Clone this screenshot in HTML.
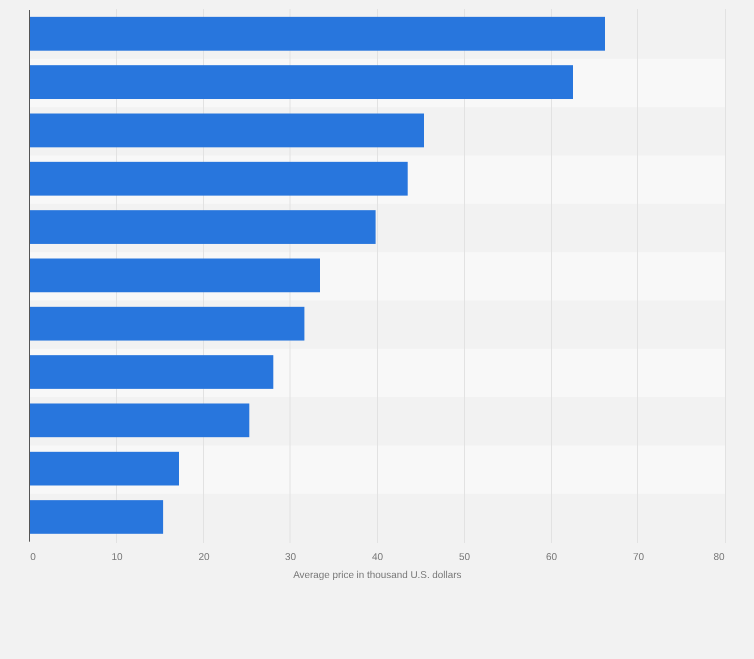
<!DOCTYPE html>
<html><head><meta charset="utf-8"><style>
html,body{margin:0;padding:0;background:#f2f2f2;}
body{width:754px;height:659px;overflow:hidden;}
svg{display:block;will-change:transform;}
text{text-rendering:geometricPrecision;}
.lbl{font-family:"Liberation Sans",sans-serif;font-size:10px;fill:#777777;}
.ttl{font-family:"Liberation Sans",sans-serif;font-size:9.9px;fill:#777777;}
.t{will-change:transform;}
</style></head><body>
<svg width="754" height="659" viewBox="0 0 754 659">
<rect x="0" y="0" width="754" height="659" fill="#f2f2f2"/>
<rect x="30" y="58.83" width="695" height="48.33" fill="#f8f8f8"/>
<rect x="30" y="155.49" width="695" height="48.33" fill="#f8f8f8"/>
<rect x="30" y="252.15" width="695" height="48.33" fill="#f8f8f8"/>
<rect x="30" y="348.81" width="695" height="48.33" fill="#f8f8f8"/>
<rect x="30" y="445.47" width="695" height="48.33" fill="#f8f8f8"/>
<line x1="116.5" y1="9" x2="116.5" y2="543" stroke="#e2e2e2" stroke-width="1"/>
<line x1="203.5" y1="9" x2="203.5" y2="543" stroke="#e2e2e2" stroke-width="1"/>
<line x1="290.0" y1="9" x2="290.0" y2="543" stroke="#e2e2e2" stroke-width="1"/>
<line x1="377.5" y1="9" x2="377.5" y2="543" stroke="#e2e2e2" stroke-width="1"/>
<line x1="464.5" y1="9" x2="464.5" y2="543" stroke="#e2e2e2" stroke-width="1"/>
<line x1="551.5" y1="9" x2="551.5" y2="543" stroke="#e2e2e2" stroke-width="1"/>
<line x1="637.5" y1="9" x2="637.5" y2="543" stroke="#e2e2e2" stroke-width="1"/>
<line x1="725.5" y1="9" x2="725.5" y2="543" stroke="#e2e2e2" stroke-width="1"/>
<rect x="30" y="16.85" width="575.00" height="33.85" fill="#2876dd"/>
<rect x="30" y="65.18" width="543.00" height="33.83" fill="#2876dd"/>
<rect x="30" y="113.51" width="394.00" height="33.81" fill="#2876dd"/>
<rect x="30" y="161.84" width="377.70" height="33.79" fill="#2876dd"/>
<rect x="30" y="210.17" width="345.60" height="33.77" fill="#2876dd"/>
<rect x="30" y="258.50" width="290.00" height="33.75" fill="#2876dd"/>
<rect x="30" y="306.83" width="274.40" height="33.73" fill="#2876dd"/>
<rect x="30" y="355.16" width="243.30" height="33.71" fill="#2876dd"/>
<rect x="30" y="403.49" width="219.30" height="33.69" fill="#2876dd"/>
<rect x="30" y="451.82" width="149.00" height="33.67" fill="#2876dd"/>
<rect x="30" y="500.15" width="133.10" height="33.65" fill="#2876dd"/>
<line x1="29.5" y1="10" x2="29.5" y2="541.7" stroke="#555555" stroke-width="1"/>
<text x="33" y="560.4" text-anchor="middle" class="lbl">0</text>
<text x="117" y="560.4" text-anchor="middle" class="lbl">10</text>
<text x="204" y="560.4" text-anchor="middle" class="lbl">20</text>
<text x="290.5" y="560.4" text-anchor="middle" class="lbl">30</text>
<text x="377.5" y="560.4" text-anchor="middle" class="lbl">40</text>
<text x="464.5" y="560.4" text-anchor="middle" class="lbl">50</text>
<text x="551.5" y="560.4" text-anchor="middle" class="lbl">60</text>
<text x="638.5" y="560.4" text-anchor="middle" class="lbl">70</text>
<text x="719" y="560.4" text-anchor="middle" class="lbl">80</text>
<text x="377.3" y="578" text-anchor="middle" class="ttl">Average price in thousand U.S. dollars</text>
</svg>
</body></html>
